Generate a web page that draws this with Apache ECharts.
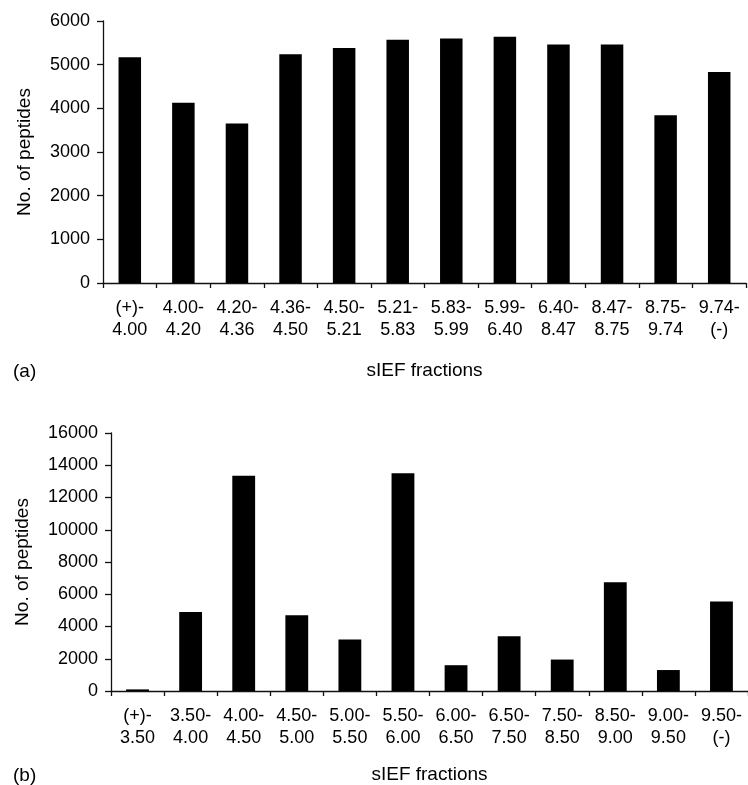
<!DOCTYPE html>
<html>
<head>
<meta charset="utf-8">
<script src="https://cdn.jsdelivr.net/npm/echarts@6/dist/echarts.min.js"></script>
<style>
html,body{margin:0;padding:0;background:#fff;}
#c{width:748px;height:785px;}
</style>
</head>
<body>
<div id="c"></div>
<script>
const categoriesA = ['(+)-\n4.00','4.00-\n4.20','4.20-\n4.36','4.36-\n4.50','4.50-\n5.21','5.21-\n5.83','5.83-\n5.99','5.99-\n6.40','6.40-\n8.47','8.47-\n8.75','8.75-\n9.74','9.74-\n(-)'];
const valuesA = [5170, 4130, 3650, 5240, 5380, 5570, 5600, 5640, 5460, 5460, 3840, 4830];
const categoriesB = ['(+)-\n3.50','3.50-\n4.00','4.00-\n4.50','4.50-\n5.00','5.00-\n5.50','5.50-\n6.00','6.00-\n6.50','6.50-\n7.50','7.50-\n8.50','8.50-\n9.00','9.00-\n9.50','9.50-\n(-)'];
const valuesB = [100, 4900, 13350, 4700, 3200, 13500, 1600, 3400, 1950, 6750, 1300, 5550];
const yTicksA = {min: 0, max: 6000, interval: 1000};
const yTicksB = {min: 0, max: 16000, interval: 2000};

const FONT = 'Liberation Sans';
const axisLine = {show: true, lineStyle: {color: '#111', width: 1.3}};
function xAxis(gridIndex, data, gap) {
  return {
    type: 'category', gridIndex, data,
    name: 'sIEF fractions', nameLocation: 'middle', nameGap: gap,
    nameTextStyle: {fontFamily: FONT, fontSize: 19, color: '#000'},
    axisLine, axisTick: {show: true, length: 5, lineStyle: {color: '#111', width: 1.3}},
    axisLabel: {fontFamily: FONT, fontSize: 18, color: '#000', margin: 14, lineHeight: 22, interval: 0},
    splitLine: {show: false}
  };
}
function yAxis(gridIndex, t, gap) {
  return {
    type: 'value', gridIndex, min: t.min, max: t.max, interval: t.interval,
    name: 'No. of peptides', nameLocation: 'middle', nameGap: gap,
    nameTextStyle: {fontFamily: FONT, fontSize: 19, color: '#000'},
    axisLine, axisTick: {show: true, length: 6, lineStyle: {color: '#111', width: 1.3}},
    axisLabel: {fontFamily: FONT, fontSize: 18, color: '#000', margin: 13, formatter: v => String(v)},
    splitLine: {show: false}
  };
}
const chart = echarts.init(document.getElementById('c'), null, {renderer: 'canvas'});
chart.setOption({
  animation: false,
  backgroundColor: '#fff',
  title: [
    {text: '(a)', left: 8, top: 357, textStyle: {fontFamily: FONT, fontSize: 19, fontWeight: 'normal', color: '#000'}},
    {text: '(b)', left: 8, top: 761, textStyle: {fontFamily: FONT, fontSize: 19, fontWeight: 'normal', color: '#000'}}
  ],
  grid: [
    {left: 103, right: 2, top: 21, height: 262, containLabel: false},
    {left: 111, right: 0, top: 433, height: 261, containLabel: false}
  ],
  xAxis: [xAxis(0, categoriesA, 78), xAxis(1, categoriesB, 74)],
  yAxis: [yAxis(0, yTicksA, 69), yAxis(1, yTicksB, 79)],
  series: [
    {type: 'bar', xAxisIndex: 0, yAxisIndex: 0, data: valuesA, barWidth: '42%', itemStyle: {color: '#000'}},
    {type: 'bar', xAxisIndex: 1, yAxisIndex: 1, data: valuesB, barWidth: '43%', itemStyle: {color: '#000'}}
  ]
});
</script>
</body>
</html>
